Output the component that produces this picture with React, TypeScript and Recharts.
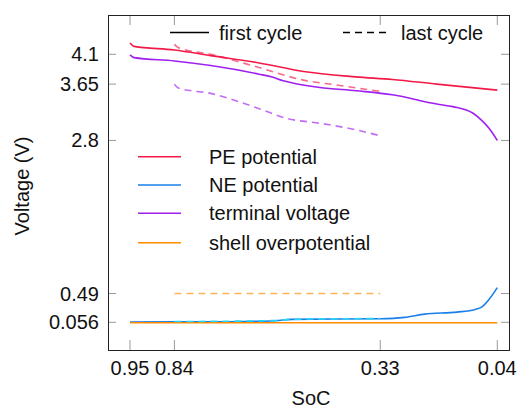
import { LineChart, Line, XAxis, YAxis } from 'recharts';

const socTicks = [0.95, 0.84, 0.33, 0.04];
const voltTicks = [4.1, 3.65, 2.8, 0.49, 0.056];

// first cycle (solid)
const peFirstSoc = [0.95, 0.94, 0.84, 0.75, 0.63, 0.52, 0.39, 0.3, 0.19, 0.04];
const peFirstV = [4.27, 4.22, 4.165, 4.08, 3.97, 3.84, 3.76, 3.72, 3.65, 3.56];
const neFirstSoc = [0.95, 0.84, 0.7, 0.59, 0.55, 0.33, 0.27, 0.22, 0.14, 0.095, 0.078, 0.062, 0.04];
const neFirstV = [0.06, 0.062, 0.065, 0.08, 0.1, 0.11, 0.13, 0.18, 0.21, 0.25, 0.29, 0.39, 0.58];
const tvFirstSoc = [0.95, 0.94, 0.84, 0.75, 0.63, 0.6, 0.57, 0.48, 0.39, 0.3, 0.19, 0.15, 0.1, 0.08, 0.06, 0.04];
const tvFirstV = [4.09, 4.05, 4.0, 3.93, 3.8, 3.76, 3.7, 3.6, 3.55, 3.49, 3.35, 3.31, 3.21, 3.11, 2.98, 2.8];
const shellFirstSoc = [0.95, 0.04];
const shellFirstV = [0.05, 0.05];

// last cycle (dashed)
const peLastSoc = [0.84, 0.83, 0.75, 0.63, 0.52, 0.43, 0.33];
const peLastV = [4.25, 4.2, 4.1, 3.9, 3.71, 3.63, 3.54];
const neLastSoc = [0.84, 0.59, 0.55, 0.33];
const neLastV = [0.067, 0.082, 0.102, 0.112];
const tvLastSoc = [0.84, 0.83, 0.75, 0.63, 0.56, 0.48, 0.39, 0.33];
const tvLastV = [3.65, 3.59, 3.51, 3.28, 3.13, 3.06, 2.96, 2.87];
const shellLastSoc = [0.84, 0.33];
const shellLastV = [0.49, 0.49];

const seriesNames = ['PE potential', 'NE potential', 'terminal voltage', 'shell overpotential'];
const seriesColors = ['#f21a48', '#1a7fe8', '#a020f0', '#ff8c00'];
const cycleNames = ['first cycle', 'last cycle'];

const pts = (s: number[], v: number[]) => s.map((x, i) => ({ soc: x, v: v[i] }));

const W = 517;
const H = 410;
const LEFT = 108;
const RIGHT = 509;
const TOP = 15;
const BOTTOM = 350;
const FONT = '"Liberation Sans", Arial, sans-serif';
const FS = 20;
const TICK = '#999';

const XTick = ({ x, payload }: any) => (
  <g>
    <line x1={x} x2={x} y1={BOTTOM} y2={BOTTOM - 10} stroke={TICK} />
    <line x1={x} x2={x} y1={TOP} y2={TOP + 10} stroke={TICK} />
    <text x={x} y={375} textAnchor="middle" fontFamily={FONT} fontSize={FS} fill="#111">
      {payload.value}
    </text>
  </g>
);

const YTick = ({ y, payload }: any) => (
  <g>
    <line x1={LEFT} x2={LEFT + 8} y1={y} y2={y} stroke={TICK} />
    <line x1={RIGHT} x2={RIGHT - 8} y1={y} y2={y} stroke={TICK} />
    <text x={99} y={y + 7} textAnchor="end" fontFamily={FONT} fontSize={FS} fill="#111">
      {payload.value}
    </text>
  </g>
);

export default function App() {
  const solid = [
    pts(peFirstSoc, peFirstV),
    pts(neFirstSoc, neFirstV),
    pts(tvFirstSoc, tvFirstV),
    pts(shellFirstSoc, shellFirstV),
  ];
  const dashed = [
    pts(peLastSoc, peLastV),
    pts(neLastSoc, neLastV),
    pts(tvLastSoc, tvLastV),
    pts(shellLastSoc, shellLastV),
  ];
  const dashedColors = [seriesColors[0], '#27d7f2', seriesColors[2], seriesColors[3]];
  const legendYs = [156.7, 185, 213.3, 242.7];

  return (
    <div style={{ position: 'absolute', left: 0, top: 0, width: W, height: H, background: '#fff' }}>
      <LineChart width={W} height={H} margin={{ top: TOP, right: W - RIGHT, left: 0, bottom: 0 }}>
        <XAxis
          dataKey="soc"
          type="number"
          domain={[0.011, 1.0045]}
          reversed
          allowDataOverflow
          ticks={socTicks}
          interval={0}
          height={H - BOTTOM}
          tickLine={false}
          axisLine={false}
          tick={<XTick />}
        />
        <YAxis
          dataKey="v"
          type="number"
          domain={[-0.362, 4.693]}
          allowDataOverflow
          ticks={voltTicks}
          interval={0}
          width={LEFT}
          tickLine={false}
          axisLine={false}
          tick={<YTick />}
        />
        {solid.map((d, i) => (
          <Line
            key={'s' + i}
            data={d}
            dataKey="v"
            type="monotone"
            stroke={seriesColors[i]}
            strokeWidth={1.6}
            dot={false}
            isAnimationActive={false}
          />
        ))}
        {dashed.map((d, i) => (
          <Line
            key={'d' + i}
            data={d}
            dataKey="v"
            type="monotone"
            stroke={dashedColors[i]}
            strokeOpacity={i === 1 ? 1 : 0.65}
            strokeWidth={1.6}
            strokeDasharray="7 5"
            dot={false}
            isAnimationActive={false}
          />
        ))}
      </LineChart>
      <svg width={W} height={H} style={{ position: 'absolute', left: 0, top: 0, pointerEvents: 'none' }}>
        <rect x={LEFT + 0.5} y={TOP + 0.5} width={RIGHT - LEFT} height={BOTTOM - TOP} fill="none" stroke="#222" />
        {/* cycle legend */}
        <line x1={170} x2={209} y1={32.5} y2={32.5} stroke="#000" strokeWidth={1.5} />
        <text x={219} y={39.5} fontFamily={FONT} fontSize={FS} fill="#111">{cycleNames[0]}</text>
        <line x1={343} x2={388} y1={32.5} y2={32.5} stroke="#000" strokeWidth={1.5} strokeDasharray="7 5" />
        <text x={401} y={39.5} fontFamily={FONT} fontSize={FS} fill="#111">{cycleNames[1]}</text>
        {/* series legend */}
        {seriesNames.map((n, i) => (
          <g key={n}>
            <line x1={138} x2={181} y1={legendYs[i]} y2={legendYs[i]} stroke={seriesColors[i]} strokeWidth={1.6} />
            <text x={209} y={legendYs[i] + 7} fontFamily={FONT} fontSize={FS} fill="#111">{n}</text>
          </g>
        ))}
        <text x={311} y={405} textAnchor="middle" fontFamily={FONT} fontSize={FS} fill="#111">SoC</text>
        <text
          x={0}
          y={0}
          transform="translate(29,186) rotate(-90)"
          textAnchor="middle"
          fontFamily={FONT}
          fontSize={FS}
          fill="#111"
        >
          Voltage (V)
        </text>
      </svg>
    </div>
  );
}
